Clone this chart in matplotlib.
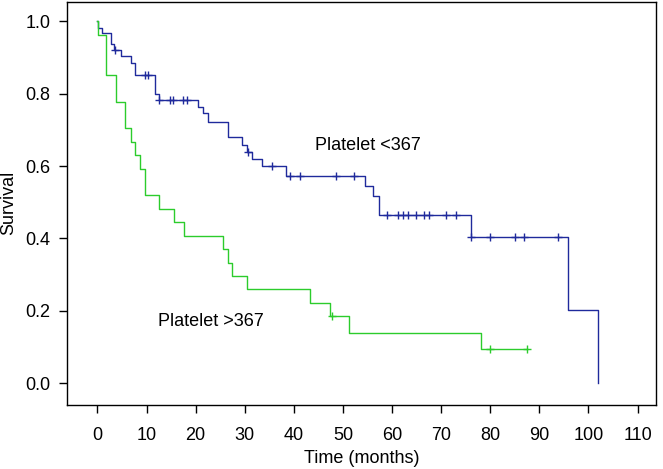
import numpy as np
import matplotlib
matplotlib.use("Agg")
from matplotlib import pyplot as plt

plt.rcParams['font.family'] = ['Liberation Sans', 'DejaVu Sans']

# Kaplan-Meier steps (months, survival)
low_times = [0.2, 0.9, 2.8, 3.3, 4.8, 6.8, 7.7, 11.7, 12.5, 20.5, 21.5, 22.5, 26.5,
             29.5, 30.4, 31.4, 33.5, 38.4, 54.4, 56.2, 57.3, 76.1, 95.9, 101.9]
low_surv = [0.983, 0.967, 0.937, 0.920, 0.903, 0.885, 0.853, 0.800, 0.782, 0.764, 0.746,
            0.721, 0.679, 0.659, 0.640, 0.620, 0.599, 0.573, 0.545, 0.518, 0.466, 0.405,
            0.203, 0.0]
low_censored = [3.6, 9.7, 10.4, 12.5, 14.8, 15.4, 17.5, 18.2, 30.7, 35.5, 39.3, 41.3,
                48.5, 52.3, 59.0, 61.3, 62.2, 63.3, 64.9, 66.6, 67.6, 71.0, 73.0, 76.1,
                80.0, 85.0, 86.9, 93.9]

high_times = [0.2, 1.7, 3.8, 5.7, 6.8, 7.7, 8.7, 9.7, 12.6, 15.6, 17.6, 25.5, 26.5,
              27.5, 30.5, 43.3, 47.3, 51.3, 78.1]
high_surv = [0.963, 0.852, 0.778, 0.704, 0.667, 0.630, 0.593, 0.519, 0.481, 0.444, 0.407,
             0.370, 0.333, 0.296, 0.259, 0.222, 0.185, 0.139, 0.093]
high_censored = [47.8, 80.0, 87.4]
high_end = 87.4

x_ticks = [0, 10, 20, 30, 40, 50, 60, 70, 80, 90, 100, 110]
y_ticks = [0.0, 0.2, 0.4, 0.6, 0.8, 1.0]

BLUE = '#1f2a9c'
GREEN = '#2ccc2c'


def surv_at(times, surv, t):
    # value of the step function at time t
    idx = np.searchsorted(times, t, side='right')
    vals = np.concatenate([[1.0], surv])
    return vals[idx]


fig = plt.figure(figsize=(6.63, 4.69), dpi=100)
ax = fig.add_axes([0.101, 0.137, 0.888, 0.859])

# low platelet group
x = [0] + low_times
y = [1.0] + low_surv
ax.step(x, y, where='post', color=BLUE, lw=1.0)
ax.plot(low_censored, surv_at(low_times, low_surv, low_censored), '+',
        color=BLUE, ms=6, mew=1.0)

# high platelet group
x = [0] + high_times + [high_end]
y = [1.0] + high_surv + [high_surv[-1]]
ax.step(x, y, where='post', color=GREEN, lw=1.0)
ax.plot(high_censored, surv_at(high_times, high_surv, high_censored), '+',
        color=GREEN, ms=6, mew=1.0)

ax.text(44.4, 0.656, 'Platelet <367', fontsize=13, va='center', ha='left')
ax.text(12.3, 0.169, 'Platelet >367', fontsize=13, va='center', ha='left')

ax.set_xlim(-6.2, 113.7)
ax.set_ylim(-0.06, 1.054)
ax.set_xticks(x_ticks)
ax.set_yticks(y_ticks)
ax.set_yticklabels(['%.1f' % v for v in y_ticks])
ax.tick_params(direction='out', length=6, width=1, labelsize=13, pad=6)
ax.tick_params(axis='x', pad=10)
for s in ax.spines.values():
    s.set_linewidth(1.0)

ax.set_xlabel('Time (months)', fontsize=13, labelpad=4)
ax.set_ylabel('Survival', fontsize=13, labelpad=6)

plt.savefig('out.png', dpi=100)
